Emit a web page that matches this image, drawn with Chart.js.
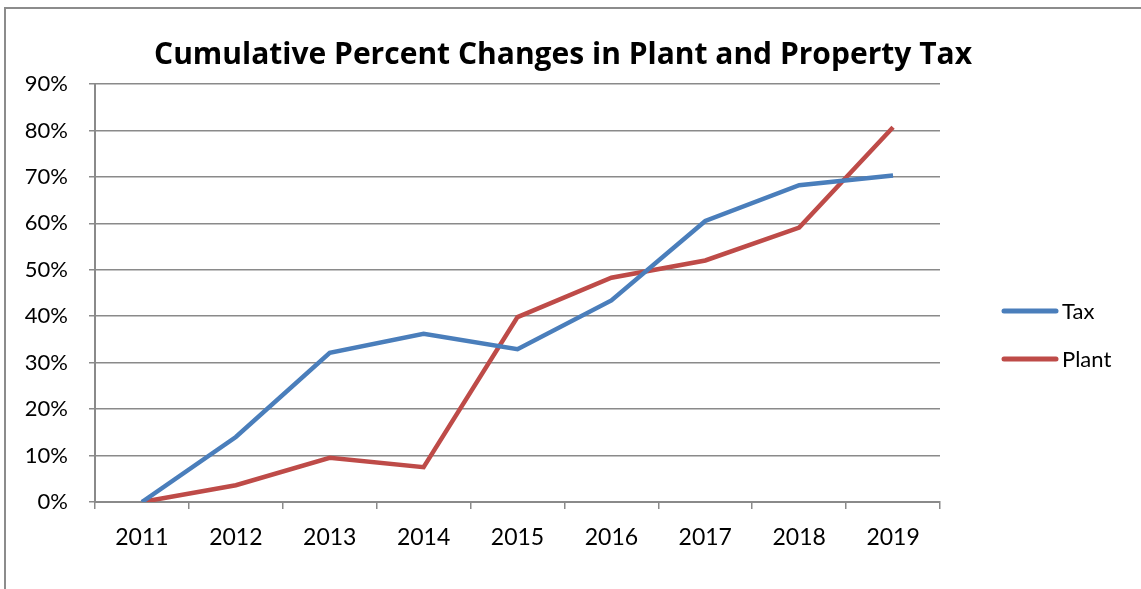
<!DOCTYPE html>
<html>
<head>
<meta charset="utf-8">
<script src="https://cdn.jsdelivr.net/npm/chart.js@4"></script>
<style>
    html, body { margin: 0; padding: 0; background: #fff; }
    #wrap { width: 1141px; height: 589px; }
</style>
</head>
<body>
<div id="wrap"><canvas id="lineChart" width="1141" height="589"></canvas></div>
<script>
const years = ['2011', '2012', '2013', '2014', '2015', '2016', '2017', '2018', '2019'];
const tax = [0, 14.0, 32.1, 36.2, 32.9, 43.4, 60.5, 68.2, 70.3];
const plant = [0, 3.6, 9.5, 7.5, 39.8, 48.3, 52.0, 59.1, 80.7];
const chartTitle = 'Cumulative Percent Changes in Plant and Property Tax';

const FONT = 'Lato, "Open Sans", sans-serif';
const GRID = '#8a8a8a';

// frame, title and legend drawn by hand so they sit where Excel put them
const decor = {
    id: 'decor',
    beforeDraw(chart) {
        const ctx = chart.ctx;
        ctx.save();
        ctx.fillStyle = '#fff';
        ctx.fillRect(0, 0, chart.width, chart.height);
        ctx.strokeStyle = '#8c8c8c';
        ctx.lineWidth = 2;
        ctx.strokeRect(5, 8, chart.width + 20, chart.height + 20);
        ctx.restore();
    },
    afterDraw(chart) {
        const ctx = chart.ctx;
        ctx.save();
        ctx.fillStyle = '#000';
        ctx.font = 'bold 30px "Open Sans", sans-serif';
        ctx.textAlign = 'center';
        ctx.textBaseline = 'middle';
        ctx.fillText(chartTitle, 563, 55);

        ctx.font = '22px ' + FONT;
        ctx.textAlign = 'left';
        chart.data.datasets.forEach((ds, i) => {
            const y = 311 + i * 48;
            ctx.strokeStyle = ds.borderColor;
            ctx.lineWidth = 5;
            ctx.lineCap = 'round';
            ctx.beginPath();
            ctx.moveTo(1004, y);
            ctx.lineTo(1056, y);
            ctx.stroke();
            ctx.fillStyle = '#000';
            ctx.fillText(ds.label, 1062, y + 1);
        });
        ctx.restore();
    }
};

function createLineChart() {
    const ctx = document.getElementById('lineChart').getContext('2d');
    return new Chart(ctx, {
        type: 'line',
        data: {
            labels: years,
            datasets: [{
                label: 'Tax',
                data: tax,
                borderColor: '#4a7ebb',
                borderWidth: 4.5,
                pointRadius: 0,
                tension: 0
            },
            {
                label: 'Plant',
                data: plant,
                borderColor: '#be4b48',
                borderWidth: 4.5,
                pointRadius: 0,
                tension: 0
            }]
        },
        options: {
            responsive: false,
            animation: false,
            layout: {
                padding: { left: 0, top: 84, right: 201, bottom: 27 }
            },
            plugins: {
                legend: { display: false },
                title: { display: false },
                tooltip: { enabled: false }
            },
            scales: {
                x: {
                    offset: true,
                    afterFit(scale) { scale.height = 60; },
                    grid: {
                        offset: true,
                        drawOnChartArea: false,
                        drawTicks: true,
                        tickLength: 7,
                        color: GRID,
                        lineWidth: 1.5
                    },
                    border: { display: true, color: GRID, width: 2 },
                    ticks: {
                        color: '#000',
                        font: { family: FONT, size: 23 },
                        padding: 15,
                        maxRotation: 0
                    }
                },
                y: {
                    min: 0,
                    max: 90,
                    afterFit(scale) { scale.width = 95; },
                    grid: {
                        color: GRID,
                        lineWidth: 1.5,
                        tickLength: 6
                    },
                    border: { display: true, color: GRID, width: 2 },
                    ticks: {
                        stepSize: 10,
                        color: '#000',
                        font: { family: FONT, size: 22 },
                        padding: 21,
                        callback: v => v + '%'
                    }
                }
            }
        },
        plugins: [decor]
    });
}

const lineChart = createLineChart();
</script>
</body>
</html>
